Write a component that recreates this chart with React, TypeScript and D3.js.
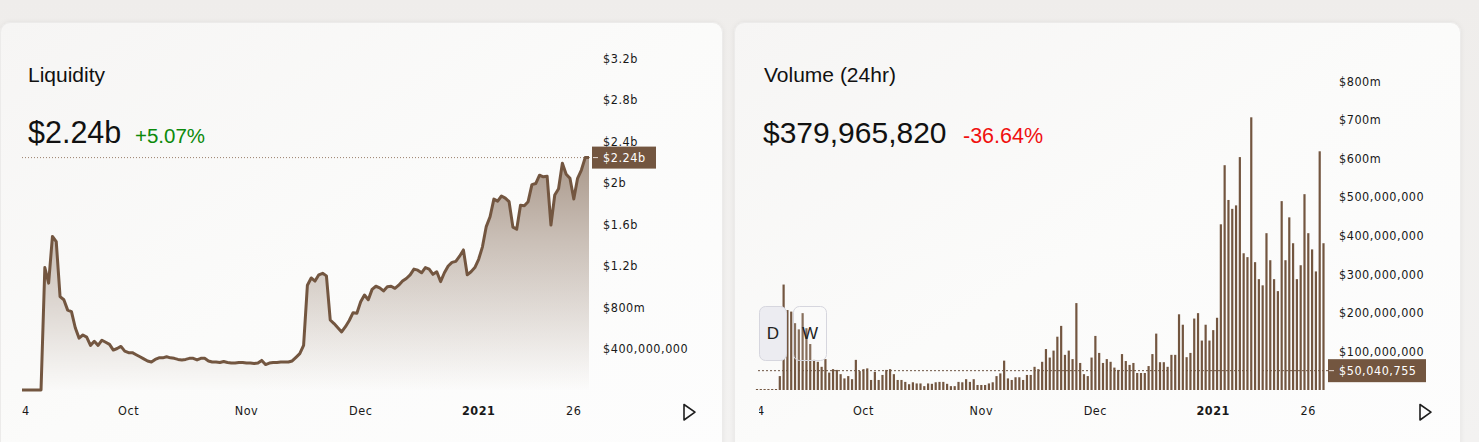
import React from "react";
import * as d3 from "d3";

const width = 1479;
const height = 442;
const brown = "#735640";
const tickFont = "'DejaVu Sans Condensed', 'DejaVu Sans', sans-serif";
const titleFont = "'Liberation Sans', Arial, sans-serif";

// one point per day, Sep 3 2020 .. Jan 30 2021
const startDay = new Date(2020, 8, 3);
const days = d3.range(150).map((i) => d3.timeDay.offset(startDay, i));

// liquidity in billions of dollars
const liquidity = [
  0, 0, 0, 0, 0, 0,
  1.18, 1.03, 1.48, 1.43, 0.9, 0.87, 0.77, 0.755, 0.6, 0.5,
  0.53, 0.51, 0.43, 0.47, 0.43, 0.48, 0.46, 0.44, 0.385, 0.4,
  0.42, 0.375, 0.36, 0.36, 0.34, 0.32, 0.3, 0.28, 0.27, 0.295,
  0.31, 0.31, 0.32, 0.31, 0.305, 0.295, 0.29, 0.295, 0.305, 0.305,
  0.29, 0.305, 0.305, 0.28, 0.27, 0.27, 0.265, 0.275, 0.265, 0.26,
  0.26, 0.265, 0.265, 0.26, 0.26, 0.255, 0.26, 0.285, 0.245, 0.26,
  0.265, 0.265, 0.27, 0.27, 0.27,
  0.28, 0.315, 0.35, 0.43, 1.01, 1.08, 1.05, 1.11, 1.125, 1.1,
  0.675, 0.64, 0.6, 0.56, 0.61, 0.67, 0.745, 0.74, 0.85, 0.915,
  0.87, 0.97, 1.0, 0.985, 0.955, 0.995, 1.0, 0.98, 1.01, 1.05,
  1.075, 1.11, 1.165, 1.155, 1.13, 1.18, 1.165, 1.115, 1.14, 1.045,
  1.13, 1.195, 1.23, 1.24, 1.29, 1.35, 1.11, 1.14, 1.18, 1.26,
  1.38, 1.575, 1.67, 1.84, 1.82, 1.87, 1.85, 1.815, 1.57, 1.55,
  1.78, 1.775, 1.815, 1.98, 1.99, 2.07, 2.055, 2.06, 1.59, 1.88,
  1.94, 2.185, 2.08, 2.04, 1.84, 2.04, 2.12, 2.24, 2.24,
];

// 24h volume in millions of dollars
const volume = [
  0, 0, 0, 0, 0, 0,
  36, 273, 207, 203, 173, 157, 199, 160, 119, 78,
  73, 60, 80, 45, 54, 52, 41, 30, 36, 28,
  78, 49, 54, 56, 26, 47, 26, 39, 52, 54,
  41, 26, 26, 21, 15, 20, 17, 17, 10, 17,
  16, 20, 21, 21, 16, 10, 10, 21, 20, 28,
  21, 28, 13, 13, 13, 17, 20, 36, 43, 76,
  30, 26, 33, 33, 26, 39, 39, 60,
  54, 73, 106, 84, 102, 138, 166, 91, 102, 80,
  225, 70, 41, 36, 84, 140, 96, 70, 80, 73,
  58, 52, 93, 75, 65, 70, 44, 44, 44, 62,
  93, 146, 72, 72, 60, 91, 91, 196, 169, 85,
  96, 185, 199, 128, 169, 128,
  155, 187, 429, 582, 492, 469, 478, 603, 354, 344,
  706, 331, 287, 271, 406, 336, 287, 256, 489, 336,
  447, 380, 287, 323, 507, 406, 364, 307, 618, 380,
];

const liqTicks = [3.2e9, 2.8e9, 2.4e9, 2e9, 1.6e9, 1.2e9, 8e8, 4e8];
const liqTickLabels = ["$3.2b", "$2.8b", "$2.4b", "$2b", "$1.6b", "$1.2b", "$800m", "$400,000,000"];
const volTicks = [8e8, 7e8, 6e8, 5e8, 4e8, 3e8, 2e8, 1e8];
const volTickLabels = [
  "$800m", "$700m", "$600m", "$500,000,000", "$400,000,000",
  "$300,000,000", "$200,000,000", "$100,000,000",
];
const timeTicks = [
  new Date(2020, 8, 4), new Date(2020, 9, 1), new Date(2020, 10, 1),
  new Date(2020, 11, 1), new Date(2021, 0, 1), new Date(2021, 0, 26),
];
const timeTickLabels = ["4", "Oct", "Nov", "Dec", "2021", "26"];

const liqValue = 2.24e9;
const volMarker = 50040755;

// scales
const xLiq = d3.scaleTime().domain([days[0], days[days.length - 1]]).range([22, 589]);
const yLiq = d3.scaleLinear().domain([0, 3.2e9]).range([390, 58]);
const xVol = d3.scaleTime().domain([days[0], days[days.length - 1]]).range([757, 1323.5]);
const yVol = d3.scaleLinear().domain([0, 8e8]).range([390, 81]);

const liqPoints = days.map((d, i) => ({ date: d, value: liquidity[i] * 1e9 }));
const liqLine = d3
  .line<{ date: Date; value: number }>()
  .x((d) => xLiq(d.date))
  .y((d) => yLiq(d.value));
const liqArea = d3
  .area<{ date: Date; value: number }>()
  .x((d) => xLiq(d.date))
  .y0(yLiq(0))
  .y1((d) => yLiq(d.value));

const tickText = {
  fontFamily: tickFont,
  fontSize: 12.5,
  letterSpacing: 0.55,
};

const TimeAxis = ({ x, clipId }) => (
  <g clipPath={`url(#${clipId})`}>
    {timeTicks.map((t, i) => (
      <text
        key={i}
        x={x(t)}
        y={415}
        textAnchor="middle"
        {...tickText}
        fontWeight={timeTickLabels[i] === "2021" ? "bold" : "normal"}
        fill="#191919"
      >
        {timeTickLabels[i]}
      </text>
    ))}
  </g>
);

const PlayButton = ({ x }) => (
  <path
    d={`M${x},404.5 L${x},420 L${x + 11},412.2 Z`}
    fill="none"
    stroke="#1e1e1e"
    strokeWidth={1.6}
    strokeLinejoin="round"
  />
);

const App = () => (
  <svg
    width={width}
    height={height}
    style={{ position: "absolute", left: 0, top: 0, display: "block" }}
  >
    <defs>
      <linearGradient id="pageBg" x1="0" y1="0" x2="0" y2="1">
        <stop offset="0" stopColor="#efedeb" />
        <stop offset="1" stopColor="#f3f2f1" />
      </linearGradient>
      <linearGradient id="cardBg" x1="0" y1="0" x2="1" y2="1">
        <stop offset="0" stopColor="#f6f5f4" />
        <stop offset="0.5" stopColor="#fbfbfa" />
        <stop offset="1" stopColor="#fdfdfd" />
      </linearGradient>
      <linearGradient id="areaFill" gradientUnits="userSpaceOnUse" x1="0" y1="58" x2="0" y2="392">
        <stop offset="0" stopColor={brown} stopOpacity={0.88} />
        <stop offset="0.55" stopColor={brown} stopOpacity={0.36} />
        <stop offset="1" stopColor={brown} stopOpacity={0} />
      </linearGradient>
      <filter id="cardShadow" x="-5%" y="-5%" width="110%" height="110%">
        <feDropShadow dx="0" dy="0" stdDeviation="2.5" floodColor="#000" floodOpacity="0.06" />
      </filter>
      <clipPath id="leftAxisClip">
        <rect x={22} y={395} width={620} height={30} />
      </clipPath>
      <clipPath id="rightAxisClip">
        <rect x={759} y={395} width={620} height={30} />
      </clipPath>
    </defs>

    <rect width={width} height={height} fill="url(#pageBg)" />
    <rect x={0.5} y={22.5} width={722} height={440} rx={10} fill="url(#cardBg)" stroke="#ecebea" filter="url(#cardShadow)" />
    <rect x={734.5} y={22.5} width={726} height={440} rx={10} fill="url(#cardBg)" stroke="#ecebea" filter="url(#cardShadow)" />

    {/* Liquidity */}
    <g>
      <text x={28} y={82} fontFamily={titleFont} fontSize={21} fill="#111">Liquidity</text>
      <text x={28} y={143} fontFamily={titleFont} fontSize={30.5} fill="#111">$2.24b</text>
      <text x={135} y={143} fontFamily={titleFont} fontSize={20.5} fill="#0c8a0c">+5.07%</text>

      <path d={liqArea(liqPoints) || ""} fill="url(#areaFill)" />
      <line
        x1={22}
        x2={590}
        y1={yLiq(liqValue)}
        y2={yLiq(liqValue)}
        stroke="#9a7f6c"
        strokeWidth={1}
        strokeDasharray="1 2"
      />
      <path
        d={liqLine(liqPoints) || ""}
        fill="none"
        stroke={brown}
        strokeWidth={3}
        strokeLinejoin="round"
      />

      {liqTicks.map((t, i) => (
        <text key={i} x={603} y={yLiq(t)} dy="0.36em" {...tickText} fill="#191919">
          {liqTickLabels[i]}
        </text>
      ))}
      <rect x={592} y={yLiq(liqValue) - 11} width={64} height={22} fill={brown} />
      <line x1={593} x2={598} y1={yLiq(liqValue)} y2={yLiq(liqValue)} stroke="#e8ddd5" strokeWidth={1} />
      <text x={603} y={yLiq(liqValue)} dy="0.36em" {...tickText} fill="#ffffff">
        $2.24b
      </text>

      <TimeAxis x={xLiq} clipId="leftAxisClip" />
      <PlayButton x={684} />
    </g>

    {/* Volume */}
    <g>
      <text x={764} y={82} fontFamily={titleFont} fontSize={21} fill="#111">Volume (24hr)</text>
      <text x={763} y={143} fontFamily={titleFont} fontSize={30} fill="#111">$379,965,820</text>
      <text x={963} y={143} fontFamily={titleFont} fontSize={21.5} fill="#f01010">-36.64%</text>

      <line
        x1={758}
        x2={1328}
        y1={yVol(volMarker)}
        y2={yVol(volMarker)}
        stroke="#6e5544"
        strokeWidth={1}
        strokeDasharray="2 2"
      />
      {days.map((d, i) => {
        const y = yVol(volume[i] * 1e6);
        return (
          <rect
            key={i}
            x={xVol(d) - 1.1}
            y={Math.min(y, yVol(0) - 1)}
            width={2.2}
            height={Math.max(1, yVol(0) - y)}
            fill={brown}
          />
        );
      })}

      {volTicks.map((t, i) => (
        <text key={i} x={1339} y={yVol(t)} dy="0.36em" {...tickText} fill="#191919">
          {volTickLabels[i]}
        </text>
      ))}
      <rect x={1328} y={yVol(volMarker) - 11.5} width={98} height={23} fill={brown} />
      <line x1={1329} x2={1334} y1={yVol(volMarker)} y2={yVol(volMarker)} stroke="#e8ddd5" strokeWidth={1} />
      <text x={1339} y={yVol(volMarker)} dy="0.36em" {...tickText} fill="#ffffff">
        $50,040,755
      </text>

      <rect x={759.5} y={306.5} width={27} height={54} rx={6} fill="#ececf1" stroke="#d6d6de" />
      <text x={773} y={339} textAnchor="middle" fontFamily={titleFont} fontSize={17} fill="#222">D</text>
      <rect x={793.5} y={306.5} width={33} height={54} rx={6} fill="rgba(255,255,255,0.15)" stroke="#d6d6de" />
      <text x={810} y={339} textAnchor="middle" fontFamily={titleFont} fontSize={17} fill="#222">W</text>

      <TimeAxis x={xVol} clipId="rightAxisClip" />
      <PlayButton x={1420} />
    </g>
  </svg>
);

export default App;
